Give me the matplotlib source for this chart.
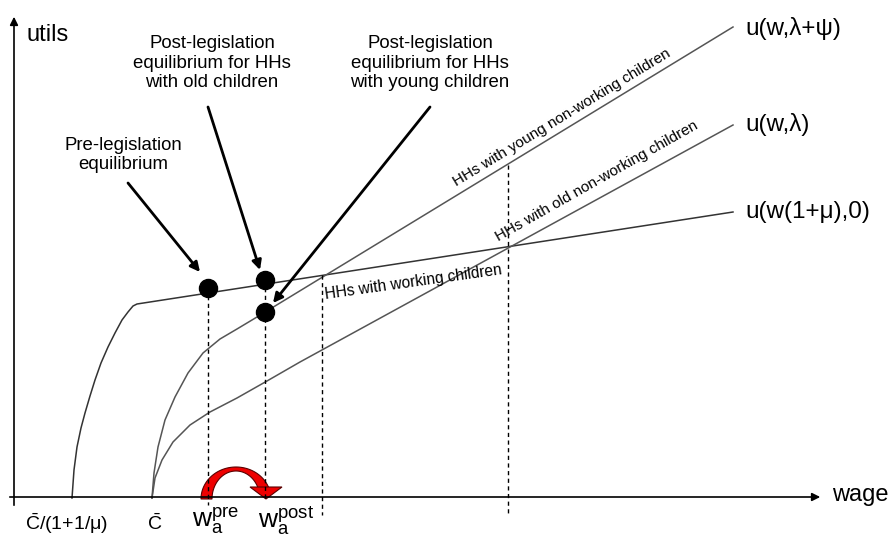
import numpy as np
import matplotlib.pyplot as plt
from matplotlib.patches import Polygon

plt.rcParams['font.family'] = ['Liberation Sans', 'DejaVu Sans']
plt.rcParams['mathtext.fontset'] = 'custom'
plt.rcParams['mathtext.rm'] = 'Liberation Sans'
plt.rcParams['mathtext.it'] = 'Liberation Sans'

# coordenadas en pixeles de la figura (x a la derecha, y hacia abajo)
trabajo_x = [72, 74, 77, 81, 85, 90, 95, 101, 108, 115, 122, 128, 133, 137, 733]
trabajo_y = [498, 470, 447, 428, 413, 396, 380, 363, 347, 333, 320, 312, 306, 304, 212]

jovenes_x = [152, 154, 158, 165, 175, 188, 203, 220, 237, 257, 733]
jovenes_y = [498, 473, 447, 420, 397, 373, 353, 339, 329, 317, 27]

mayores_x = [152, 155, 162, 173, 190, 210, 237, 267, 300, 733]
mayores_y = [498, 478, 460, 442, 425, 412, 398, 381, 362, 125]

# equilibrios
puntos_x = [208, 265, 265]
puntos_y = [288, 280, 312]

# lineas punteadas verticales (x, y superior, y inferior)
guias_x = [208, 265, 322, 508]
guias_top = [288, 280, 275, 165]
guias_bot = [505, 500, 515, 515]

etiquetas_curvas = ['u(w,λ+ψ)', 'u(w,λ)', 'u(w(1+μ),0)']
etiquetas_x = [r'$\mathregular{\bar{C}}$/(1+1/μ)', r'$\mathregular{\bar{C}}$',
               r'$\mathregular{w_a^{pre}}$', r'$\mathregular{w_a^{post}}$']

fig = plt.figure(figsize=(8.93, 5.38), dpi=100)
ax = fig.add_axes([0, 0, 1, 1])
ax.set_xlim(0, 893)
ax.set_ylim(538, 0)
ax.axis('off')

# ejes
ax.annotate('', xy=(14, 14), xytext=(14, 508),
            arrowprops=dict(arrowstyle='-|>', color='black', lw=1.2, mutation_scale=12))
ax.annotate('', xy=(823, 497), xytext=(7, 497),
            arrowprops=dict(arrowstyle='-|>', color='black', lw=1.2, mutation_scale=12))
ax.text(27, 35, 'utils', fontsize=17, va='center', ha='left')
ax.text(832, 495, 'wage', fontsize=17, va='center', ha='left')

# flecha roja curva (debajo de las guias): banda entre dos elipses + punta
cx, cy = 236, 499
ext = np.linspace(np.pi, np.radians(20), 50)
inn = np.linspace(np.radians(23), np.pi, 50)
borde = list(zip(cx + 35 * np.cos(ext), cy - 32 * np.sin(ext))) + \
        list(zip(cx + 24 * np.cos(inn), cy - 28 * np.sin(inn)))
ax.add_patch(Polygon(borde, closed=True, facecolor='#ee0000', edgecolor='#5a0000',
                     lw=0.8, zorder=2))
ax.add_patch(Polygon([(250, 487), (282, 487), (266, 499)], closed=True,
                     facecolor='#ee0000', edgecolor='#5a0000', lw=0.8, zorder=2))

# curvas
ax.plot(trabajo_x, trabajo_y, color='#333333', lw=1.1)
ax.plot(jovenes_x, jovenes_y, color='#555555', lw=1.1)
ax.plot(mayores_x, mayores_y, color='#555555', lw=1.1)

for x, yt, yb in zip(guias_x, guias_top, guias_bot):
    ax.plot([x, x], [yt, yb], color='black', lw=1, ls=(0, (3, 2.5)), zorder=3)

ax.plot(puntos_x, puntos_y, 'o', color='black', ms=13, zorder=4)

# etiquetas de curvas
ax.text(745, 28, etiquetas_curvas[0], fontsize=17.5, va='center', ha='left')
ax.text(745, 125, etiquetas_curvas[1], fontsize=17.5, va='center', ha='left')
ax.text(745, 212, etiquetas_curvas[2], fontsize=17.5, va='center', ha='left')

ax.text(562, 118, 'HHs with young non-working children', fontsize=11,
        rotation=31.3, ha='center', va='center', rotation_mode='anchor')
ax.text(597, 181, 'HHs with old non-working children', fontsize=11,
        rotation=29.5, ha='center', va='center', rotation_mode='anchor')
ax.text(413, 282, 'HHs with working children', fontsize=11.2,
        rotation=8, ha='center', va='center', rotation_mode='anchor')

# textos de equilibrio
ax.text(212, 63, 'Post-legislation\nequilibrium for HHs\nwith old children',
        fontsize=13.4, ha='center', va='center', linespacing=1.2)
ax.text(430, 63, 'Post-legislation\nequilibrium for HHs\nwith young children',
        fontsize=13.4, ha='center', va='center', linespacing=1.2)
ax.text(123, 155, 'Pre-legislation\nequilibrium',
        fontsize=13.4, ha='center', va='center', linespacing=1.2)

# flechas
flecha = dict(arrowstyle='-|>', color='black', lw=2, mutation_scale=14, shrinkA=0, shrinkB=0)
ax.annotate('', xy=(200, 272), xytext=(128, 183), arrowprops=flecha)
ax.annotate('', xy=(260, 270), xytext=(208, 107), arrowprops=flecha)
ax.annotate('', xy=(273, 303), xytext=(430, 107), arrowprops=flecha)

# etiquetas del eje x
ax.text(67, 524, etiquetas_x[0], fontsize=14, ha='center', va='center')
ax.text(155, 524, etiquetas_x[1], fontsize=14, ha='center', va='center')
ax.text(192, 521, etiquetas_x[2], fontsize=19, ha='left', va='center')
ax.text(258, 521, etiquetas_x[3], fontsize=19, ha='left', va='center')

plt.savefig('out.png', dpi=100)
